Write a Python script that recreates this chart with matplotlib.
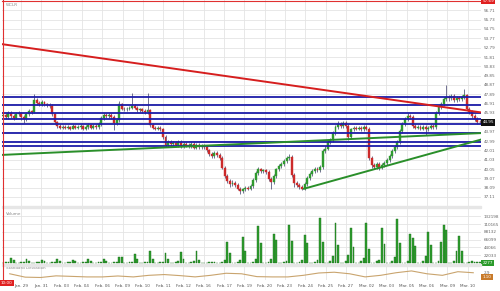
import matplotlib
matplotlib.use("Agg")
import matplotlib.pyplot as plt
import numpy as np

# ---------------- data ----------------
ticker = "WCLR"
closes = [
    45.7, 45.5, 45.9, 45.6, 45.4, 45.8,
    45.9, 45.5, 45.3, 45.8, 46.1, 46.0,
    47.3, 47.0, 46.9, 47.1, 46.9, 46.8,
    46.7, 45.8, 45.0, 44.6, 44.4, 44.5,
    44.4, 44.5, 44.3, 44.6, 44.4, 44.5,
    44.6, 44.3, 44.5, 44.7, 44.4, 44.6,
    44.5, 44.8, 45.4, 45.7, 45.6, 45.7,
    45.5, 44.9, 45.2, 46.9, 46.4, 46.3,
    46.4, 46.5, 46.7, 46.5, 46.2, 46.3,
    46.1, 46.0, 46.2, 44.7, 44.4, 44.3,
    44.4, 44.2, 43.4, 42.6, 42.9, 42.7,
    42.8, 42.6, 42.9, 42.5, 42.7, 42.6,
    42.5, 42.7, 42.3, 42.6, 42.4, 42.5,
    42.4, 42.0, 41.6, 41.4, 41.7, 41.5,
    41.2, 40.2, 39.3, 38.8, 38.5, 38.6,
    38.4, 38.0, 37.7, 37.9, 38.1, 38.0,
    38.3, 38.9, 39.6, 40.0, 39.8, 39.9,
    39.7, 39.0, 38.7, 39.3, 40.0, 40.4,
    40.6, 40.9, 41.2, 41.3, 39.4, 38.6,
    38.4, 38.2, 38.0, 38.5, 39.1, 39.5,
    39.8, 40.1, 39.9, 40.3, 41.9, 42.2,
    42.9, 43.1, 43.8, 44.5, 44.8, 44.6,
    44.9, 44.6, 43.4, 44.2, 44.4, 44.3,
    44.4, 44.2, 44.5, 44.3, 41.2, 40.5,
    40.3, 40.6, 40.2, 40.5, 40.7, 41.0,
    41.4, 41.9, 42.4, 42.9, 44.0, 44.8,
    45.3, 45.6, 45.5, 44.6, 44.4, 44.5,
    44.3, 44.5, 44.2, 44.4, 44.6, 44.5,
    45.9, 46.6, 46.9, 47.4, 47.6, 47.5,
    47.7, 47.3, 47.5, 47.4, 47.6, 47.8,
    46.4, 46.0, 45.6, 45.3, 45.0, 44.95,
]
first_open = 45.6
highs = [
    45.9, 45.9, 46.1, 46.1, 45.8, 46.0,
    46.1, 46.0, 45.7, 46.0, 46.3, 46.2,
    47.9, 47.5, 47.2, 47.3, 47.2, 47.0,
    47.0, 46.9, 45.9, 45.1, 44.8, 44.7,
    44.7, 44.7, 44.6, 44.8, 44.7, 44.7,
    44.8, 44.7, 44.7, 44.9, 44.8, 44.8,
    44.8, 45.0, 45.6, 45.9, 45.9, 45.9,
    45.9, 45.7, 45.4, 47.2, 47.0, 46.6,
    46.6, 46.7, 48.0, 46.9, 46.7, 46.5,
    46.5, 46.3, 48.0, 46.4, 44.9, 44.6,
    44.6, 44.6, 44.4, 43.6, 43.1, 43.1,
    43.0, 43.0, 43.1, 43.1, 42.9, 42.9,
    42.8, 42.9, 42.9, 42.8, 42.8, 42.7,
    42.7, 42.6, 42.2, 41.8, 41.9, 41.9,
    41.7, 41.4, 40.4, 39.5, 39.0, 38.9,
    38.8, 38.6, 38.2, 38.1, 38.3, 38.3,
    38.5, 39.1, 39.8, 40.3, 40.2, 40.1,
    40.1, 39.9, 39.2, 39.5, 40.2, 40.6,
    40.8, 41.1, 41.4, 41.6, 41.5, 39.6,
    38.8, 38.6, 38.4, 38.7, 39.3, 39.7,
    40.0, 40.3, 40.3, 40.5, 42.1, 42.5,
    43.1, 43.3, 44.0, 44.7, 45.1, 45.0,
    45.1, 45.1, 44.8, 44.4, 44.6, 44.6,
    44.6, 44.6, 44.7, 44.7, 44.5, 41.4,
    40.7, 40.8, 40.8, 40.7, 40.9, 41.2,
    41.6, 42.1, 42.6, 43.1, 44.2, 45.0,
    45.5, 45.9, 45.8, 45.7, 44.8, 44.7,
    44.7, 44.7, 44.7, 44.6, 44.8, 44.8,
    46.1, 46.8, 47.1, 47.6, 48.9, 47.8,
    47.9, 47.9, 47.7, 47.7, 47.8, 48.4,
    47.9, 46.6, 46.2, 45.8, 45.5, 45.2,
]
lows = [
    45.4, 45.3, 45.3, 45.4, 45.2, 45.3,
    45.6, 45.2, 44.9, 45.1, 45.6, 45.8,
    45.9, 46.8, 46.7, 46.7, 46.7, 46.6,
    46.5, 45.6, 44.8, 44.4, 44.2, 44.2,
    44.2, 44.2, 44.1, 44.2, 44.2, 44.2,
    44.3, 44.1, 44.1, 44.3, 44.2, 44.2,
    44.3, 44.3, 44.6, 45.2, 45.4, 45.4,
    45.3, 44.1, 44.7, 45.0, 46.2, 46.1,
    46.1, 46.2, 46.3, 46.3, 46.0, 46.0,
    45.9, 45.8, 45.8, 44.5, 44.2, 44.1,
    44.1, 44.0, 43.2, 42.4, 42.4, 42.5,
    42.5, 42.4, 42.4, 42.3, 42.3, 42.4,
    42.3, 42.3, 42.1, 42.1, 42.2, 42.2,
    42.2, 41.8, 41.4, 41.2, 41.2, 41.3,
    41.0, 40.0, 39.1, 38.6, 38.2, 38.3,
    38.2, 37.8, 37.4, 37.5, 37.7, 37.8,
    37.8, 38.1, 38.7, 39.4, 39.6, 39.6,
    39.5, 38.8, 38.0, 38.5, 39.1, 39.8,
    40.2, 40.4, 40.7, 41.0, 39.2, 38.2,
    38.2, 38.0, 37.8, 37.8, 38.3, 38.9,
    39.3, 39.6, 39.7, 39.7, 40.1, 41.7,
    42.0, 42.7, 42.9, 43.6, 44.3, 44.4,
    44.4, 44.4, 43.1, 43.2, 44.0, 44.1,
    44.1, 44.0, 44.0, 44.1, 41.0, 40.2,
    40.0, 40.1, 39.9, 40.0, 40.3, 40.5,
    40.8, 41.2, 41.7, 42.2, 42.7, 43.8,
    44.6, 45.1, 45.3, 44.4, 44.2, 44.2,
    44.1, 44.1, 43.6, 44.0, 44.2, 44.3,
    44.3, 45.7, 46.4, 46.7, 47.2, 47.2,
    47.3, 47.1, 47.1, 47.2, 47.2, 47.4,
    46.2, 45.8, 45.4, 45.1, 44.8, 44.8,
]
# volume in thousands, six bars per session
volumes_k = [
    1, 2, 3, 14, 8, 1,
    1, 2, 3, 11, 5, 1,
    1, 2, 3, 9, 5, 1,
    1, 2, 3, 11, 6, 1,
    1, 2, 3, 9, 5, 1,
    1, 2, 3, 12, 6, 1,
    1, 2, 3, 11, 6, 1,
    1, 2, 3, 17, 16, 1,
    1, 2, 4, 25, 10, 1,
    1, 2, 4, 34, 12, 1,
    1, 2, 4, 28, 10, 1,
    1, 2, 5, 31, 12, 1,
    1, 2, 5, 34, 8, 1,
    1, 1, 2, 3, 2, 1,
    1, 2, 8, 59, 28, 1,
    1, 2, 8, 73, 34, 1,
    1, 2, 10, 104, 56, 1,
    1, 2, 10, 82, 65, 1,
    1, 2, 6, 107, 62, 1,
    1, 2, 8, 79, 56, 1,
    1, 2, 9, 127, 59, 1,
    1, 5, 20, 113, 51, 1,
    1, 5, 22, 99, 45, 1,
    1, 5, 14, 113, 40, 1,
    1, 5, 8, 99, 54, 1,
    1, 5, 17, 124, 56, 1,
    1, 5, 82, 71, 48, 1,
    1, 5, 20, 88, 51, 1,
    1, 5, 59, 107, 93, 1,
    1, 5, 34, 76, 34, 1,
    1, 3, 5, 4, 3, 2,
]
# standard deviation, one value per session
std_dev = [2.4, 1.1, 0.97, 1.6, 1.4, 1.19, 1.19, 1.55, 1.19, 1.8, 2.1, 1.7, 1.2,
           1.8, 2.6, 2.4, 1.3, 1.19, 1.19, 1.8, 2.7, 3.0, 2.4, 1.2, 1.8, 2.8,
           3.5, 2.4, 1.8, 3.2, 2.8]
date_labels = ["Jan. 29", "Jan. 31", "Feb. 03", "Feb. 04", "Feb. 06", "Feb. 09",
               "Feb. 10", "Feb. 11", "Feb. 12", "Feb. 16", "Feb. 17", "Feb. 19",
               "Feb. 20", "Feb. 23", "Feb. 24", "Feb. 25", "Feb. 27", "Mar. 02",
               "Mar. 03", "Mar. 05", "Mar. 06", "Mar. 09", "Mar. 10"]
price_top = 57.69
price_step = 0.98
last_price = "44.95"
vol_ticks = [22033, 44066, 66099, 88132, 110165, 132198]
last_volume = "2277"
std_tick = "2.9"
last_std = "1.10"
crosshair_time = "10:00"
# support / resistance levels and trend lines (bar index, price)
blue_levels = [47.61, 46.77, 45.93, 45.35, 44.78, 43.83, 42.89, 42.47]
red_trend = ([-1.3, 186.3], [53.19, 45.96])
green_trend1 = ([-1.3, 186.3], [41.52, 43.83])
green_trend2 = ([116.4, 186.3], [37.95, 43.2])

# ---------------- layout ----------------
W, H = 500, 291
fig = plt.figure(figsize=(W / 100, H / 100), dpi=100)
fig.patch.set_facecolor("white")


def rect(x0, y0, x1, y1):
    return [x0 / W, 1 - y1 / H, (x1 - x0) / W, (y1 - y0) / H]


n = len(closes)
opens = [first_open] + closes[:-1]
xs = np.arange(n)
px_per_bar = (481 - 2) / n
XL = (-0.5, n - 0.5)
grid_c = "#e4e4e4"
tick_c = "#666666"
fs = 3.0

# date tick positions (every ~20.3 px starting at 21 px)
date_pos = [(21 + 20.3 * k - 2) / px_per_bar - 0.5 for k in range(len(date_labels))]

ax = fig.add_axes(rect(2, 0, 481, 206))
axv = fig.add_axes(rect(2, 208, 481, 264))
axs = fig.add_axes(rect(2, 266, 481, 280))

for a in (ax, axv, axs):
    a.set_xlim(*XL)
    a.set_facecolor("white")
    for s in a.spines.values():
        s.set_visible(False)
    a.tick_params(axis="both", length=0, labelsize=fs, colors=tick_c, pad=2.2)
    a.set_xticks(date_pos)
    a.set_xticklabels([])
    a.grid(True, axis="x", color=grid_c, lw=0.6)
    a.yaxis.tick_right()
    a.set_axisbelow(True)

# price panel
y_top = price_top + 0.105
y_bot = price_top - 205 * 0.105
ax.set_ylim(y_bot, y_top)
pt = [price_top - price_step * k for k in range(1, 22)]
ax.set_yticks(pt)
# the tick equal to the last price is covered by the last-price box
ax.set_yticklabels(["" if f"{v:.2f}" == last_price else f"{v:.2f}" for v in pt])
ax.grid(True, axis="y", color=grid_c, lw=0.6)
for lab in ax.get_yticklabels():
    lab.set_horizontalalignment("left")

up_c, dn_c, wick_c = "#2f9a2f", "#cc2a2a", "#3a3a66"
bw = 0.75
for i in range(n):
    o, c, h, l = opens[i], closes[i], highs[i], lows[i]
    col = up_c if c >= o else dn_c
    ax.vlines(xs[i], l, h, color=wick_c, lw=0.5, zorder=3)
    lo, hi = min(o, c), max(o, c)
    if hi - lo < 0.08:
        hi = lo + 0.08
    ax.add_patch(plt.Rectangle((xs[i] - bw / 2, lo), bw, hi - lo, facecolor=col,
                               edgecolor=col, lw=0.3, zorder=4))

for lv in blue_levels:
    ax.axhline(lv, color="#1c1ca8", lw=1.3, zorder=5)
ax.plot(*red_trend, color="#d61e1e", lw=1.4, zorder=6, solid_capstyle="butt")
ax.plot(*green_trend1, color="#2a8f2a", lw=1.4, zorder=6, solid_capstyle="butt")
ax.plot(*green_trend2, color="#2a8f2a", lw=1.4, zorder=6, solid_capstyle="butt")

# crosshair
ax.axhline(price_top, color="#e03030", lw=0.8, zorder=7, clip_on=False)
fig.add_artist(plt.Line2D([2.5 / W, 2.5 / W], [1 - 280 / H, 1], color="#e03030", lw=0.8))

box = dict(boxstyle="square,pad=0.3", ec="none")
ax.text(1.003, price_top, f"{price_top:.2f}", transform=ax.get_yaxis_transform(),
        fontsize=fs, color="white", va="center", ha="left", zorder=10, clip_on=False,
        bbox={**box, "fc": "#e02020"})
ax.text(1.003, float(last_price), last_price, transform=ax.get_yaxis_transform(),
        fontsize=fs, color="white", va="center", ha="left", zorder=10, clip_on=False,
        bbox={**box, "fc": "#111111"})
ax.text(0.008, 0.985, ticker, transform=ax.transAxes, fontsize=fs, color="#888888",
        va="top", ha="left")

# volume panel
vscale = 22033 / 7.8
axv.set_ylim(-1 * vscale, (263 - 208) * vscale)
axv.set_yticks(vol_ticks)
axv.set_yticklabels([str(v) for v in vol_ticks])
axv.grid(True, axis="y", color=grid_c, lw=0.6)
for lab in axv.get_yticklabels():
    lab.set_horizontalalignment("left")
axv.bar(xs, [v * 1000 for v in volumes_k], width=0.72, color="#2e9e2e",
        edgecolor="#1d6e1d", lw=0.3, zorder=3)
axv.text(0.008, 0.93, "Volume", transform=axv.transAxes, fontsize=fs, color="#888888",
         va="top", ha="left")
axv.text(1.003, 0, last_volume, transform=axv.get_yaxis_transform(),
         fontsize=fs, color="white", va="center", ha="left", zorder=10, clip_on=False,
         bbox={**box, "fc": "#2a9a2a"})
fig.add_artist(plt.Rectangle((2 / W, 1 - 208 / H), 479 / W, 2 / H, color="#e6e6e6"))
fig.add_artist(plt.Rectangle((2 / W, 1 - 266 / H), 479 / W, 2 / H, color="#e6e6e6"))

# std dev panel
axs.set_ylim(0, 5.4)
axs.set_yticks([float(std_tick)])
axs.set_yticklabels([std_tick])
for lab in axs.get_yticklabels():
    lab.set_horizontalalignment("left")
day_centers = [6 * d + 2.5 for d in range(len(std_dev))]
axs.plot(day_centers, std_dev, color="#c9a46e", lw=0.8)
axs.text(0.008, 0.98, "Standard Deviation", transform=axs.transAxes, fontsize=fs,
         color="#888888", va="top", ha="left")
axs.text(1.003, float(last_std), last_std, transform=axs.get_yaxis_transform(),
         fontsize=fs, color="white", va="center", ha="left", zorder=10, clip_on=False,
         bbox={**box, "fc": "#c87a2a"})

# date labels
axs.set_xticklabels(date_labels)
axs.tick_params(axis="x", labelsize=fs, colors="#555555", pad=3)
fig.text(0.5 / W, 1 - 283 / H, crosshair_time, fontsize=fs, color="white", va="center",
         ha="left", bbox={**box, "fc": "#e02020"})

fig.savefig("out.png", dpi=100, facecolor="white")
